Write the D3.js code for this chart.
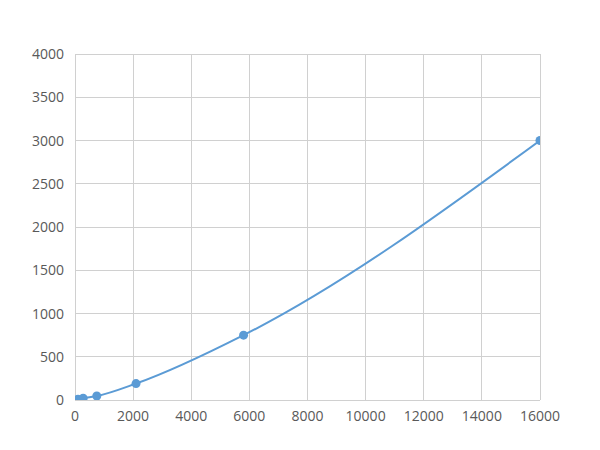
<!DOCTYPE html>
<html><head><meta charset="utf-8">
<script src="https://cdn.jsdelivr.net/npm/d3@7"></script>
<style>body{margin:0;background:#fff}</style>
</head><body>
<svg id="c" width="600" height="450"></svg>
<script>
const xValues = [100, 280, 750, 2100, 5800, 16000];
const yValues = [8, 20, 46, 190, 750, 3000];
const xTicks = [0,2000,4000,6000,8000,10000,12000,14000,16000];
const yTicks = [0,500,1000,1500,2000,2500,3000,3500,4000];

const svg = d3.select("#c");
const m = {l:75, r:60, t:54, b:50};
const W = 600, H = 450;
const x = d3.scaleLinear().domain([0,16000]).range([m.l, W-m.r]);
const y = d3.scaleLinear().domain([0,4000]).range([H-m.b, m.t]);

svg.append("clipPath").attr("id","clip").append("rect")
  .attr("x",x(0)).attr("y",y(4000)).attr("width",x(16000)-x(0)).attr("height",y(0)-y(4000));

const g = svg.append("g");
g.selectAll(".vg").data(xTicks).join("line")
  .attr("x1",d=>x(d)).attr("x2",d=>x(d)).attr("y1",y(0)).attr("y2",y(4000))
  .attr("stroke","#d0d0d0").attr("stroke-width",1).attr("shape-rendering","crispEdges");
g.selectAll(".hg").data(yTicks).join("line")
  .attr("y1",d=>y(d)).attr("y2",d=>y(d)).attr("x1",x(0)).attr("x2",x(16000))
  .attr("stroke","#d0d0d0").attr("stroke-width",1).attr("shape-rendering","crispEdges");

const font = "'Open Sans', 'Noto Sans', sans-serif";
svg.selectAll(".xl").data(xTicks).join("text")
  .attr("x",d=>x(d)).attr("y",y(0)+21).attr("text-anchor","middle")
  .attr("font-family",font).attr("font-size",14).attr("fill","#595959").text(d=>d);
svg.selectAll(".yl").data(yTicks).join("text")
  .attr("x",x(0)-11).attr("y",d=>y(d)+5).attr("text-anchor","end")
  .attr("font-family",font).attr("font-size",14).attr("fill","#595959").text(d=>d);

const pts = xValues.map((v,i)=>[v,yValues[i]]);
const plot = svg.append("g").attr("clip-path","url(#clip)");
const line = d3.line().x(d=>x(d[0])).y(d=>y(d[1])).curve(d3.curveMonotoneX);
plot.append("path").datum(pts).attr("d",line).attr("fill","none")
  .attr("stroke","#5b9bd5").attr("stroke-width",2);
plot.selectAll(".pt").data(pts).join("circle")
  .attr("cx",d=>x(d[0])).attr("cy",d=>y(d[1])).attr("r",4.5).attr("fill","#5b9bd5");
</script>
</body></html>
